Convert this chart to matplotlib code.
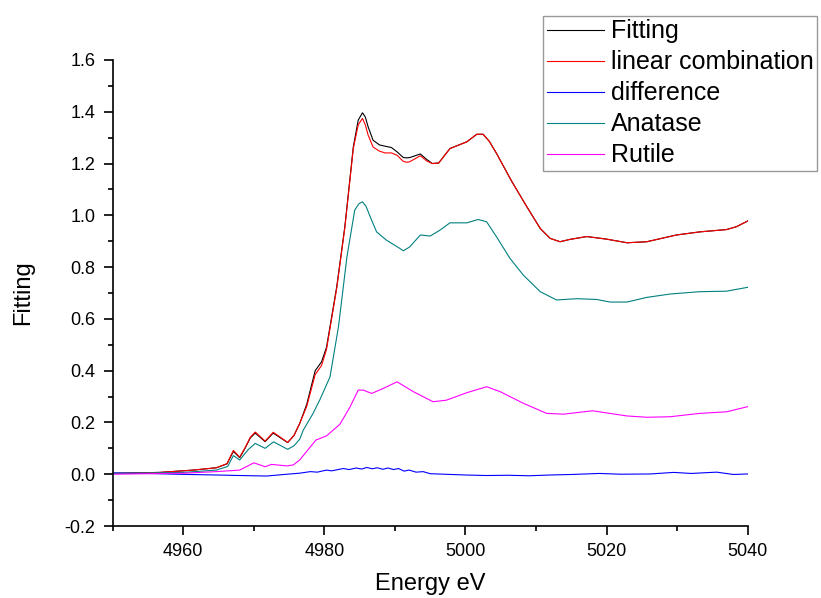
import matplotlib
matplotlib.use("Agg")
import matplotlib.pyplot as plt
from matplotlib.ticker import MultipleLocator

plt.rcParams['font.family'] = ['Liberation Sans', 'DejaVu Sans']

# Fitting (measured spectrum), black
fit_e = [4950, 4956.7, 4961.4, 4964.7, 4966.2, 4967.1, 4968.0, 4968.75, 4969.5, 4970.2,
         4971.6, 4972.75, 4973.8, 4974.8, 4975.7, 4976.5, 4977.5, 4978.7, 4979.6, 4980.3,
         4981.75, 4982.9, 4984.1, 4984.8, 4985.4, 4985.8, 4986.2, 4986.9, 4987.8, 4988.6,
         4989.5, 4990.3, 4991.2, 4991.7, 4992.1, 4993.6, 4994.5, 4995.3, 4996.2, 4997.8,
         5000.2, 5001.6, 5002.5, 5003.4, 5004.4, 5006.6, 5008.7, 5010.6, 5012.0, 5013.4,
         5014.8, 5017.2, 5020.0, 5022.9, 5025.7, 5029.9, 5033.2, 5037.0, 5038.4, 5040]
fit_y = [0.003, 0.007, 0.016, 0.025, 0.040, 0.088, 0.064, 0.100, 0.140, 0.159,
         0.126, 0.159, 0.140, 0.122, 0.150, 0.196, 0.270, 0.400, 0.434, 0.490,
         0.724, 0.956, 1.264, 1.368, 1.396, 1.380, 1.342, 1.290, 1.272, 1.267,
         1.262, 1.245, 1.223, 1.222, 1.223, 1.237, 1.216, 1.200, 1.202, 1.258,
         1.284, 1.313, 1.313, 1.285, 1.239, 1.129, 1.033, 0.949, 0.911, 0.898,
         0.907, 0.918, 0.908, 0.894, 0.898, 0.924, 0.936, 0.945, 0.956, 0.978]

# linear combination, red (same energy grid as fit)
lc_y = [0.003, 0.007, 0.016, 0.025, 0.041, 0.092, 0.066, 0.102, 0.143, 0.163,
        0.128, 0.162, 0.142, 0.123, 0.150, 0.196, 0.262, 0.385, 0.420, 0.482,
        0.718, 0.952, 1.258, 1.350, 1.374, 1.350, 1.310, 1.264, 1.248, 1.241,
        1.241, 1.232, 1.208, 1.205, 1.207, 1.230, 1.210, 1.200, 1.202, 1.258,
        1.284, 1.313, 1.313, 1.285, 1.239, 1.129, 1.033, 0.949, 0.911, 0.898,
        0.907, 0.918, 0.908, 0.894, 0.898, 0.924, 0.936, 0.945, 0.956, 0.978]

# difference, blue
diff_e = [4950, 4955, 4959, 4964.7, 4968, 4971.8, 4974.7, 4976.5, 4978, 4979,
          4980.3, 4981, 4982.7, 4983.5, 4984.5, 4985.3, 4986, 4986.8, 4987.5, 4988.3,
          4989, 4989.8, 4990.5, 4991.3, 4992, 4993, 4994, 4995, 4997, 5000,
          5003, 5006, 5009, 5012, 5015, 5019, 5022, 5026.2, 5029.5, 5032,
          5035.6, 5038, 5040]
diff_y = [0.005, 0.003, 0.0, -0.003, -0.005, -0.007, 0.0, 0.004, 0.010, 0.008,
          0.016, 0.013, 0.022, 0.018, 0.024, 0.020, 0.026, 0.021, 0.025, 0.019,
          0.024, 0.018, 0.022, 0.012, 0.016, 0.008, 0.010, 0.002, 0.0, -0.003,
          -0.005, -0.004, -0.006, -0.003, -0.001, 0.003, 0.0, 0.001, 0.007, 0.003,
          0.008, -0.001, 0.001]

# Anatase reference, teal
ana_e = [4950, 4960, 4964.7, 4966.3, 4967.1, 4968.0, 4969.2, 4970.2, 4971.6, 4972.8,
         4974.8, 4975.7, 4976.5, 4977.0, 4978.4, 4979.4, 4980.8, 4982.0, 4983.2, 4984.3,
         4984.9, 4985.4, 4985.9, 4986.5, 4987.4, 4988.8, 4990.7, 4991.2, 4992.1, 4993.6,
         4995.0, 4996.4, 4997.8, 5000.2, 5001.8, 5003.0, 5004.4, 5006.3, 5008.2, 5010.6,
         5012.9, 5015.8, 5018.6, 5020.5, 5022.9, 5025.7, 5029.0, 5033.2, 5037.0, 5040]
ana_y = [0.003, 0.007, 0.016, 0.030, 0.072, 0.055, 0.095, 0.119, 0.100, 0.125,
         0.096, 0.110, 0.135, 0.170, 0.235, 0.290, 0.376, 0.570, 0.840, 1.020,
         1.045, 1.052, 1.035, 0.994, 0.936, 0.904, 0.872, 0.863, 0.878, 0.924,
         0.920, 0.943, 0.971, 0.971, 0.984, 0.975, 0.917, 0.834, 0.769, 0.705,
         0.673, 0.678, 0.675, 0.665, 0.665, 0.683, 0.696, 0.705, 0.707, 0.722]

# Rutile reference, magenta
rut_e = [4950, 4960, 4964.7, 4968.0, 4970.0, 4971.6, 4972.5, 4974.7, 4975.6, 4976.5,
         4978.8, 4980.3, 4982.2, 4983.6, 4984.8, 4985.5, 4986.7, 4988.4, 4990.3, 4992.6,
         4995.4, 4997.3, 5000.2, 5003.0, 5004.9, 5008.2, 5011.5, 5013.9, 5018.0, 5022.9,
         5025.7, 5029.0, 5033.2, 5037.0, 5040]
rut_y = [0.0, 0.004, 0.010, 0.016, 0.044, 0.029, 0.038, 0.032, 0.036, 0.055,
         0.132, 0.148, 0.193, 0.258, 0.325, 0.325, 0.312, 0.332, 0.357, 0.319,
         0.280, 0.286, 0.315, 0.338, 0.319, 0.274, 0.235, 0.232, 0.245, 0.225,
         0.220, 0.222, 0.235, 0.241, 0.261]

fig = plt.figure(figsize=(8.21, 5.98), dpi=100)
ax = fig.add_axes([0.1373, 0.1204, 0.7734, 0.7793])

lw = 0.8
ax.plot(fit_e, fit_y, color='black', lw=lw, label='Fitting')
ax.plot(fit_e, lc_y, color='#ff0000', lw=lw, label='linear combination')
ax.plot(diff_e, diff_y, color='#0000ff', lw=lw, label='difference')
ax.plot(ana_e, ana_y, color='#008080', lw=lw, label='Anatase')
ax.plot(rut_e, rut_y, color='#ff00ff', lw=lw, label='Rutile')

ax.set_xlim(4950, 5040)
ax.set_ylim(-0.2, 1.6)

# только левая и нижняя оси
ax.spines['top'].set_visible(False)
ax.spines['right'].set_visible(False)
for s in ('left', 'bottom'):
    ax.spines[s].set_linewidth(1.2)

ax.xaxis.set_major_locator(MultipleLocator(20))
ax.xaxis.set_minor_locator(MultipleLocator(10))
ax.yaxis.set_major_locator(MultipleLocator(0.2))
ax.yaxis.set_minor_locator(MultipleLocator(0.1))
ax.yaxis.set_major_formatter(plt.FormatStrFormatter('%.1f'))
ax.tick_params(which='major', direction='out', length=6.5, width=1.2, labelsize=13, pad=6)
ax.tick_params(which='minor', direction='out', length=3.6, width=1.2)

ax.set_xlabel('Energy eV', fontsize=17, labelpad=9)
ax.set_ylabel('Fitting', fontsize=17, labelpad=22)

leg = fig.legend(loc='upper left', bbox_to_anchor=(543 / 821, 1 - 15.5 / 598),
                 fontsize=18, frameon=True, fancybox=False, labelspacing=0.28,
                 handlelength=2.3, handletextpad=0.25, borderpad=0.15,
                 borderaxespad=0)
leg.get_frame().set_edgecolor('#808080')
leg.get_frame().set_linewidth(1.0)

fig.savefig('out.png', dpi=100)
